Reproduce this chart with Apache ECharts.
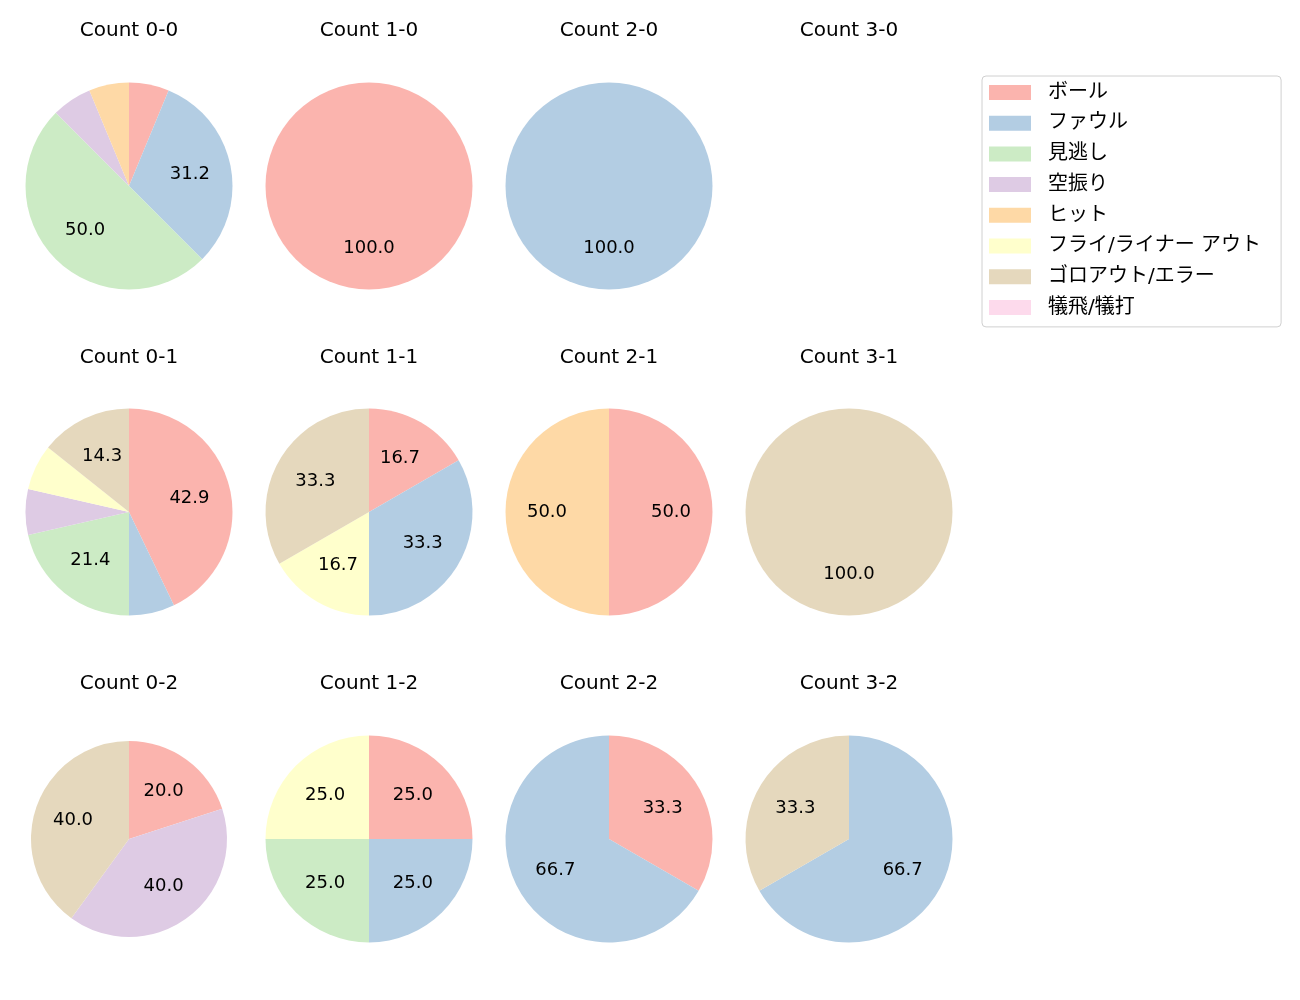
<!DOCTYPE html>
<html>
<head>
<meta charset="utf-8">
<script src="https://cdn.jsdelivr.net/npm/echarts@6/dist/echarts.min.js"></script>
<style>
  html, body { margin: 0; padding: 0; background: #fff; }
  #main { width: 1300px; height: 1000px; }
</style>
</head>
<body>
<div id="main"></div>
<script>
// カテゴリと色
var categories = ['ボール', 'ファウル', '見逃し', '空振り', 'ヒット', 'フライ/ライナー アウト', 'ゴロアウト/エラー', '犠飛/犠打'];
var colors = ['#fbb4ae', '#b3cde3', '#ccebc5', '#decbe4', '#fed9a6', '#ffffcc', '#e5d8bd', '#fddaec'];

// カウント別の件数 (categories の順)
var countNames = ['0-0', '1-0', '2-0', '3-0', '0-1', '1-1', '2-1', '3-1', '0-2', '1-2', '2-2', '3-2'];
var count00 = [1, 5, 8, 1, 1, 0, 0, 0];
var count10 = [1, 0, 0, 0, 0, 0, 0, 0];
var count20 = [0, 1, 0, 0, 0, 0, 0, 0];
var count30 = [0, 0, 0, 0, 0, 0, 0, 0];
var count01 = [6, 1, 3, 1, 0, 1, 2, 0];
var count11 = [1, 2, 0, 0, 0, 1, 2, 0];
var count21 = [1, 0, 0, 0, 1, 0, 0, 0];
var count31 = [0, 0, 0, 0, 0, 0, 1, 0];
var count02 = [1, 0, 0, 2, 0, 0, 2, 0];
var count12 = [1, 1, 1, 0, 0, 1, 0, 0];
var count22 = [1, 2, 0, 0, 0, 0, 0, 0];
var count32 = [0, 2, 0, 0, 0, 0, 1, 0];
var allCounts = [count00, count10, count20, count30, count01, count11, count21, count31, count02, count12, count22, count32];

var colX = [129, 369, 609, 849];
var rowY = [186, 512, 839];
var titleY = [29, 356, 682];
var FONT = "'DejaVu Sans', 'Noto Sans CJK JP', sans-serif";

// python の %1.1f 風の丸め
function fmtPct(p) {
    var v = p * 10;
    var f = Math.floor(v);
    var d = v - f;
    var n;
    if (Math.abs(d - 0.5) < 1e-9) n = (f % 2 === 0) ? f : f + 1;
    else n = Math.round(v);
    return (n / 10).toFixed(1);
}

var myChart = echarts.init(document.getElementById('main'));

var titles = [];
var pies = [];
var overlays = [];

countNames.forEach(function (name, i) {
    var col = i % 4, row = Math.floor(i / 4);
    var cx = colX[col], cy = rowY[row];
    titles.push({
        text: 'Count ' + name,
        left: cx, top: titleY[row] - 8,
        padding: 0,
        textAlign: 'center',
        textStyle: { fontFamily: FONT, fontSize: 20, fontWeight: 'normal', color: '#000' }
    });
    var vals = allCounts[i];
    var sum = vals.reduce(function (a, b) { return a + b; }, 0);
    if (sum === 0) return;
    var r = (name === '0-2') ? 98 : 103.5;
    var data = categories.map(function (c, k) {
        return { name: c, value: vals[k], itemStyle: { color: colors[k] } };
    });
    pies.push({
        type: 'pie',
        center: [cx, cy],
        radius: [0, r],
        startAngle: 90,
        clockwise: true,
        silent: true,
        label: { show: false },
        labelLine: { show: false },
        emphasis: { disabled: true },
        itemStyle: { borderWidth: 0 },
        data: data
    });
    // ラベル用の透明リング (中心から 0.57r の位置に文字を置く)
    overlays.push({
        type: 'pie',
        center: [cx, cy],
        radius: [r * 0.14, r],
        startAngle: 90,
        clockwise: true,
        silent: true,
        labelLine: { show: false },
        emphasis: { disabled: true },
        label: {
            show: true,
            position: 'inside',
            fontFamily: FONT,
            fontSize: 18,
            color: '#000',
            formatter: function (p) {
                var pct = p.value / sum * 100;
                return pct >= 10 ? fmtPct(pct) : '';
            }
        },
        itemStyle: { color: 'transparent', borderWidth: 0 },
        data: categories.map(function (c, k) { return { name: c, value: vals[k] }; })
    });
});

var option = {
    animation: false,
    backgroundColor: '#fff',
    title: titles,
    legend: {
        orient: 'vertical',
        left: 982,
        top: 76,
        data: categories,
        icon: 'rect',
        itemWidth: 42,
        itemHeight: 15,
        itemGap: 2.7,
        padding: [2.5, 20, 5.5, 7],
        borderColor: '#d0d0d0',
        borderWidth: 1,
        borderRadius: 4,
        selectedMode: false,
        textStyle: { fontFamily: FONT, fontSize: 20, color: '#000', lineHeight: 20, padding: [8, 0, 0, 12] }
    },
    series: pies.concat(overlays)
};

myChart.setOption(option);
</script>
</body>
</html>
